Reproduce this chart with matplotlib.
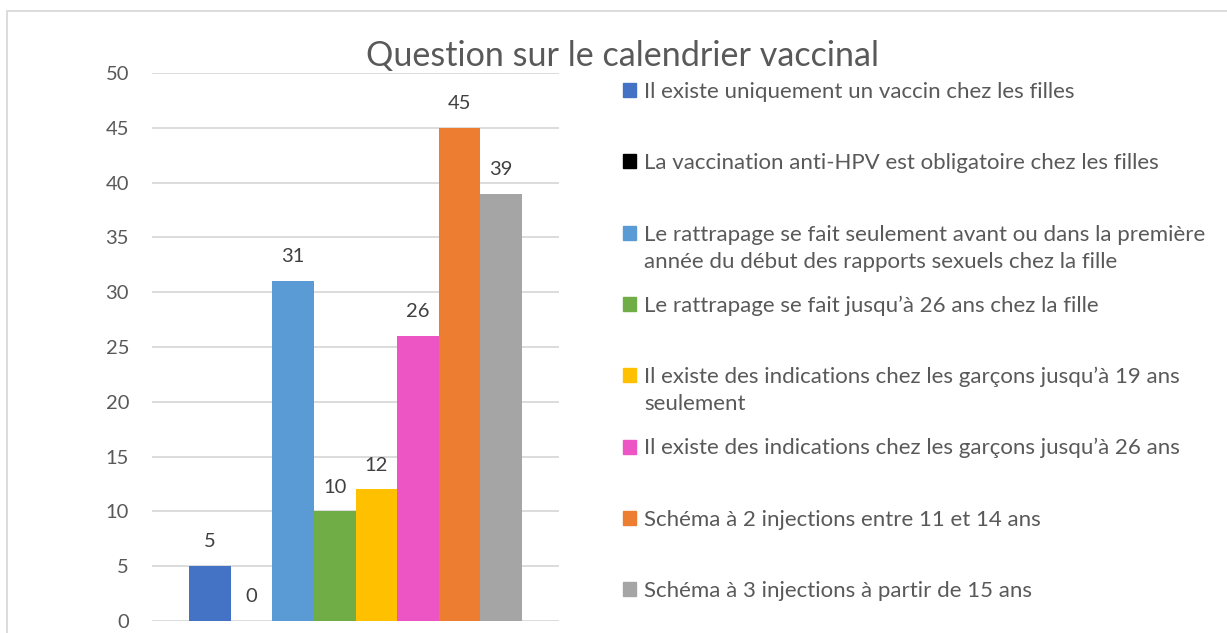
import matplotlib.pyplot as plt
from matplotlib.patches import Rectangle

plt.rcParams['font.family'] = ['Lato', 'DejaVu Sans']

title = "Question sur le calendrier vaccinal"
labels = [
    "Il existe uniquement un vaccin chez les filles",
    "La vaccination anti-HPV est obligatoire chez les filles",
    "Le rattrapage se fait seulement avant ou dans la première\nannée du début des rapports sexuels chez la fille",
    "Le rattrapage se fait jusqu\u2019à 26 ans chez la fille",
    "Il existe des indications chez les garçons jusqu\u2019à 19 ans\nseulement",
    "Il existe des indications chez les garçons jusqu\u2019à 26 ans",
    "Schéma à 2 injections entre 11 et 14 ans",
    "Schéma à 3 injections à partir de 15 ans",
]
values = [5, 0, 31, 10, 12, 26, 45, 39]
colors = ["#4472C4", "#000000", "#5B9BD5", "#70AD47",
          "#FFC000", "#EC55C3", "#ED7D31", "#A5A5A5"]
yticks = [0, 5, 10, 15, 20, 25, 30, 35, 40, 45, 50]

W, H = 1227, 633
fig = plt.figure(figsize=(W / 100, H / 100), dpi=100)
ax = fig.add_axes([152 / W, 12 / H, (559 - 152) / W, (621 - 73) / H])

txt = "#595959"
grid = "#D9D9D9"

for i, (v, c) in enumerate(zip(values, colors)):
    ax.bar(i, v, width=1.0, color=c, zorder=3)
    ax.annotate(str(v), (i, v), xytext=(0, 17.5), textcoords="offset points",
                ha="center", va="center", fontsize=14.5, color="#404040")

ax.set_xlim(-0.5 - 0.89, len(values) - 0.5 + 0.89)
ax.set_ylim(0, 50)
ax.set_yticks(yticks)
ax.set_xticks([])
ax.tick_params(axis="y", length=0, pad=16.5, labelsize=14.5, labelcolor=txt)
ax.grid(axis="y", color=grid, linewidth=1.3, zorder=0)
for s in ax.spines.values():
    s.set_visible(False)

fig.text(622.5 / W, 1 - 66 / H, title, ha="center", va="baseline",
         fontsize=24.6, color=txt)

# legend drawn by hand so rows follow the reference spacing
y0, step, line_h = 90, 71.3, 27
for i, (lab, c) in enumerate(zip(labels, colors)):
    yc = y0 + i * step
    fig.add_artist(Rectangle((623 / W, 1 - (yc + 7) / H), 13 / W, 14 / H,
                             transform=fig.transFigure, color=c))
    for k, line in enumerate(lab.split("\n")):
        fig.text(644 / W, 1 - (yc + 8 + k * line_h) / H, line, ha="left",
                 va="baseline", fontsize=16, color=txt)

# chart border
fig.add_artist(Rectangle((7 / W, -0.1), 1.2, 1 - 11 / H + 0.1,
                         transform=fig.transFigure, fill=False,
                         edgecolor=grid, linewidth=1.3, clip_on=False))

fig.savefig("out.png", dpi=100)
